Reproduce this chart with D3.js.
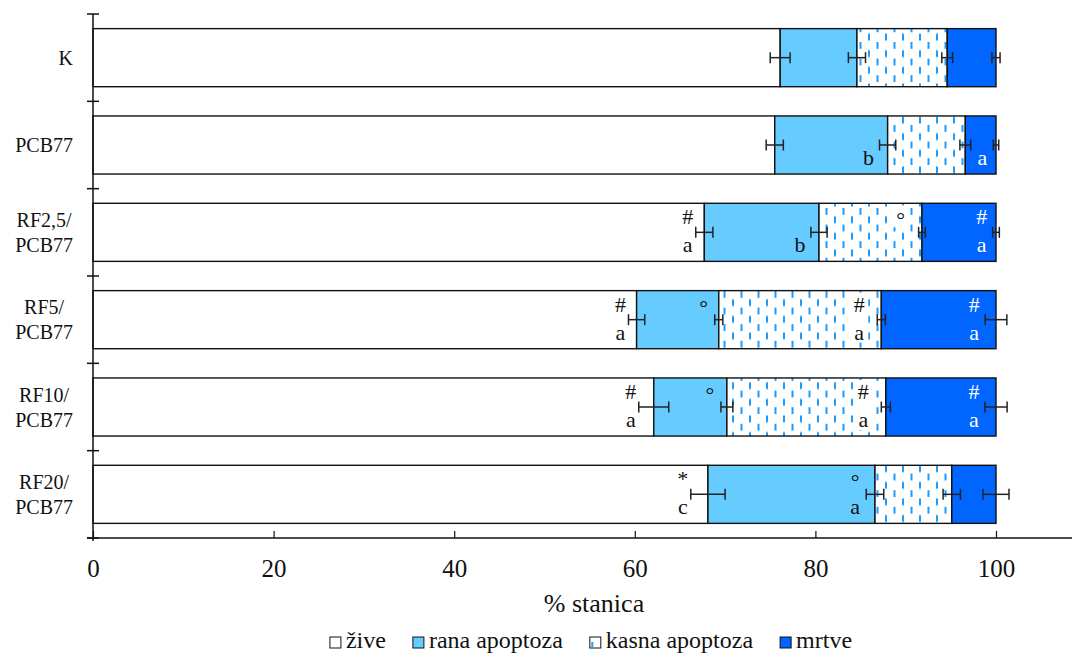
<!DOCTYPE html>
<html><head><meta charset="utf-8">
<script src="https://cdn.jsdelivr.net/npm/d3@7"></script>
<style>
body{margin:0;background:#fff}
svg{display:block}
svg text{font-family:"Liberation Serif","DejaVu Serif","Noto Serif","Times New Roman",Times,serif !important;fill:#111}
</style>
</head><body>
<svg id="chart" width="1075" height="654"></svg>
<script>
// ---- data ----
const categories = ["K", "PCB77", "RF2,5/PCB77", "RF5/PCB77", "RF10/PCB77", "RF20/PCB77"];
const seriesNames = ["žive", "rana apoptoza", "kasna apoptoza", "mrtve"];
const zive  = [76.1, 75.5, 67.7, 60.2, 62.1, 68.1];
const rana  = [8.5, 12.5, 12.7, 9.1, 8.1, 18.5];
const kasna = [10.0, 8.6, 11.4, 18.0, 17.6, 8.5];
const mrtve = [5.4, 3.4, 8.2, 12.7, 12.2, 4.9];
const ziveErr  = [1.1, 0.95, 0.95, 0.9, 1.66, 1.9];
const ranaErr  = [0.95, 0.9, 0.9, 0.45, 0.66, 0.97];
const kasnaErr = [0.6, 0.6, 0.37, 0.45, 0.5, 0.96];
const mrtveErr = [0.45, 0.3, 0.37, 1.2, 1.23, 1.44];
const xTicks = [0, 20, 40, 60, 80, 100];
const xLabel = "% stanica";
// annotations: [category, series index, upper mark, lower mark]
const annotations = [
  ["PCB77", 1, "", "b"], ["PCB77", 3, "", "a"],
  ["RF2,5/PCB77", 0, "#", "a"], ["RF2,5/PCB77", 1, "", "b"], ["RF2,5/PCB77", 2, "°", ""], ["RF2,5/PCB77", 3, "#", "a"],
  ["RF5/PCB77", 0, "#", "a"], ["RF5/PCB77", 1, "°", ""], ["RF5/PCB77", 2, "#", "a"], ["RF5/PCB77", 3, "#", "a"],
  ["RF10/PCB77", 0, "#", "a"], ["RF10/PCB77", 1, "°", ""], ["RF10/PCB77", 2, "#", "a"], ["RF10/PCB77", 3, "#", "a"],
  ["RF20/PCB77", 0, "*", "c"], ["RF20/PCB77", 1, "°", "a"]
];

const FONT = '"Liberation Serif","DejaVu Serif","Noto Serif","Times New Roman",serif';

// ---- build table ----
const valueArrays = [zive, rana, kasna, mrtve];
const errArrays = [ziveErr, ranaErr, kasnaErr, mrtveErr];
const table = categories.map((c, i) => {
  const row = {cat: c};
  seriesNames.forEach((s, j) => row[s] = valueArrays[j][i]);
  return row;
});
const stacked = d3.stack().keys(seriesNames)(table);

// ---- layout ----
const svg = d3.select("#chart");
const x = d3.scaleLinear().domain([0, 100]).range([93, 996]);
const y = d3.scaleBand().domain(categories).range([14, 538]).paddingInner(0.335).paddingOuter(0.1675);
const fills = ["#ffffff", "#66ccff", "url(#kasnaPat)", "#0066ff"];

const defs = svg.append("defs");
const pat = defs.append("pattern").attr("id", "kasnaPat").attr("patternUnits", "userSpaceOnUse")
  .attr("width", 17).attr("height", 16.6);
pat.append("rect").attr("width", 17).attr("height", 16.6).attr("fill", "#fff");
pat.append("line").attr("x1", 2).attr("x2", 2).attr("y1", 0.5).attr("y2", 7.3)
  .attr("stroke", "#1a9bff").attr("stroke-width", 2);
pat.append("line").attr("x1", 10.5).attr("x2", 10.5).attr("y1", 8.8).attr("y2", 15.6)
  .attr("stroke", "#1a9bff").attr("stroke-width", 2);

// bars
svg.append("g").selectAll("g").data(stacked).join("g")
  .attr("fill", (d, i) => fills[i])
  .selectAll("rect").data(d => d).join("rect")
  .attr("x", d => x(d[0])).attr("width", d => x(d[1]) - x(d[0]))
  .attr("y", d => y(d.data.cat)).attr("height", y.bandwidth())
  .attr("stroke", "#111").attr("stroke-width", 1.4);

function txt(g) {
  return g.append("text").attr("font-family", FONT).style("font-family", FONT);
}

// annotations
const offs = [-8, -11, -18, -11];
const annG = svg.append("g");
annotations.forEach(([cat, si, top, bot]) => {
  const ci = categories.indexOf(cat);
  const end = stacked[si][ci][1];
  const err = errArrays[si][ci];
  const cx = x(end - err) + offs[si];
  const cy = y(cat) + y.bandwidth() / 2;
  const col = si === 3 ? "#ffffff" : "#111";
  if (si === 2) {
    annG.append("rect").attr("x", cx - 9).attr("y", cy - 27).attr("width", 18)
      .attr("height", top && bot ? 50 : 22).attr("fill", "#fff");
  }
  if (top) {
    txt(annG).attr("x", cx).attr("y", top === "°" ? cy - 5 : cy - 8)
      .attr("text-anchor", "middle").style("font-size", "22px").style("fill", col).text(top);
  }
  if (bot) {
    txt(annG).attr("x", cx).attr("y", cy + 20)
      .attr("text-anchor", "middle").style("font-size", "22px").style("fill", col).text(bot);
  }
});

// error bars
const eg = svg.append("g").attr("stroke", "#222").attr("stroke-width", 1.5);
stacked.forEach((s, si) => {
  s.forEach((d, ci) => {
    const e = errArrays[si][ci];
    const cy = y(d.data.cat) + y.bandwidth() / 2;
    const x1 = x(d[1] - e), x2 = x(d[1] + e);
    eg.append("line").attr("x1", x1).attr("x2", x2).attr("y1", cy).attr("y2", cy);
    eg.append("line").attr("x1", x1).attr("x2", x1).attr("y1", cy - 5.5).attr("y2", cy + 5.5);
    eg.append("line").attr("x1", x2).attr("x2", x2).attr("y1", cy - 5.5).attr("y2", cy + 5.5);
  });
});

// x axis
const xAxis = svg.append("g").attr("transform", "translate(0,538)")
  .call(d3.axisBottom(x).tickValues(xTicks).tickSizeInner(-7).tickSizeOuter(0).tickPadding(21));
xAxis.attr("font-family", FONT);
xAxis.select(".domain").remove();
xAxis.selectAll(".tick line").attr("stroke", "#111").attr("stroke-width", 1.2);
xAxis.selectAll(".tick text").style("font-family", FONT).style("font-size", "25px").style("fill", "#111");
svg.append("line").attr("x1", 87).attr("x2", 1072).attr("y1", 538).attr("y2", 538)
  .attr("stroke", "#111").attr("stroke-width", 1.5);
txt(svg).attr("x", 594).attr("y", 612).attr("text-anchor", "middle")
  .style("font-size", "26px").text(xLabel);

// y axis
svg.append("line").attr("x1", 93).attr("x2", 93).attr("y1", 14).attr("y2", 541)
  .attr("stroke", "#111").attr("stroke-width", 1.5);
const bounds = d3.range(categories.length + 1).map(i => 14 + i * y.step());
svg.append("g").selectAll("line").data(bounds).join("line")
  .attr("x1", 87).attr("x2", 99).attr("y1", d => d).attr("y2", d => d)
  .attr("stroke", "#111").attr("stroke-width", 1.5);

// category labels
const labG = svg.append("g");
categories.forEach(c => {
  const parts = c.includes("/") ? [c.slice(0, c.indexOf("/") + 1), c.slice(c.indexOf("/") + 1)] : [c];
  const cy = y(c) + y.bandwidth() / 2;
  const texts = parts.map((p, i) => txt(labG)
    .attr("y", cy + 7 + (i - (parts.length - 1) / 2) * 25)
    .attr("text-anchor", "middle").style("font-size", "20px").text(p));
  const maxW = d3.max(texts, t => t.node().getComputedTextLength());
  texts.forEach(t => t.attr("x", 73 - maxW / 2));
});

// legend
const legG = svg.append("g");
let lx = 0;
seriesNames.forEach((s, i) => {
  const g = legG.append("g");
  g.append("rect").attr("x", lx).attr("y", 637).attr("width", 11).attr("height", 11)
    .attr("fill", i === 2 ? "#fff" : fills[i]).attr("stroke", "#111").attr("stroke-width", 1);
  if (i === 2) {
    g.append("line").attr("x1", lx + 2.5).attr("x2", lx + 2.5).attr("y1", 642).attr("y2", 647.5)
      .attr("stroke", "#1a9bff").attr("stroke-width", 2);
  }
  const t = txt(g).attr("x", lx + 16).attr("y", 648).style("font-size", "24px").text(s);
  lx += 16 + t.node().getComputedTextLength() + 27;
});
const totalW = lx - 27;
legG.attr("transform", `translate(${591 - totalW / 2},0)`);
</script>
</body></html>
